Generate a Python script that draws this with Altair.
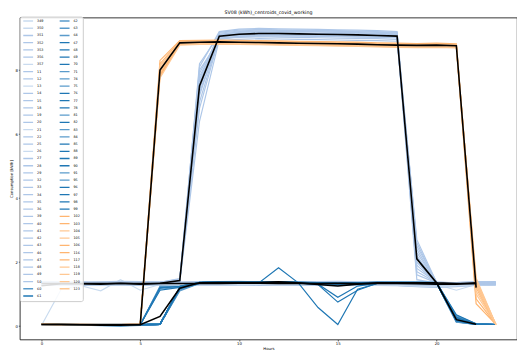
import altair as alt
import pandas as pd

HOURS = list(range(24))
CENTROID_HOURS = list(range(23))
TITLE = "SV08 (kWh)_centroids_covid_working"
X_TICKS = [0, 5, 10, 15, 20]
Y_TICKS = [0, 2, 4, 6, 8]

# ---- flat cluster (light blue) ----
FLAT_NAMES = ["349", "350", "351", "352", "353", "356", "357", "11", "12", "13", "14",
              "15", "18", "19", "20", "21", "22", "25", "26", "27", "28", "29"]
FLAT_VALUES = [
    [0.02, 1.15, 1.27, 1.29, 1.30, 1.31, 1.30, 1.32, 1.31, 1.30, 1.31, 1.32, 1.30, 1.31, 1.30, 1.29, 1.30, 1.31, 1.30, 1.29, 1.28, 1.30, 1.31, 1.33],
    [1.31, 1.29, 1.26, 1.10, 1.45, 1.12, 1.30, 1.33, 1.34, 1.33, 1.35, 1.34, 1.36, 1.35, 1.33, 1.38, 1.34, 1.33, 1.35, 1.32, 1.30, 1.12, 1.30, 1.33],
    [1.34, 1.33, 1.32, 1.33, 1.34, 1.33, 1.35, 1.34, 1.33, 1.34, 1.35, 1.33, 1.34, 1.36, 1.35, 1.34, 1.33, 1.34, 1.35, 1.33, 1.32, 1.33, 1.34, 1.35],
    [1.36, 1.35, 1.36, 1.34, 1.35, 1.36, 1.37, 1.36, 1.35, 1.34, 1.36, 1.37, 1.35, 1.36, 1.34, 1.35, 1.36, 1.35, 1.34, 1.36, 1.35, 1.36, 1.37, 1.36],
    [1.30, 1.31, 1.29, 1.30, 1.31, 1.29, 1.30, 1.32, 1.31, 1.30, 1.29, 1.30, 1.31, 1.32, 1.30, 1.29, 1.31, 1.30, 1.29, 1.27, 1.25, 1.26, 1.29, 1.30],
    [1.38, 1.37, 1.38, 1.36, 1.37, 1.38, 1.36, 1.37, 1.38, 1.37, 1.36, 1.38, 1.39, 1.37, 1.36, 1.37, 1.38, 1.36, 1.37, 1.38, 1.37, 1.36, 1.38, 1.37],
    [1.28, 1.29, 1.30, 1.28, 1.29, 1.27, 1.28, 1.30, 1.29, 1.28, 1.30, 1.29, 1.28, 1.27, 1.29, 1.30, 1.28, 1.29, 1.27, 1.24, 1.22, 1.25, 1.28, 1.29],
    [1.33, 1.34, 1.33, 1.32, 1.34, 1.33, 1.32, 1.33, 1.34, 1.35, 1.33, 1.32, 1.34, 1.33, 1.32, 1.34, 1.33, 1.32, 1.33, 1.34, 1.33, 1.32, 1.33, 1.34],
    [1.35, 1.33, 1.34, 1.35, 1.33, 1.34, 1.36, 1.35, 1.33, 1.34, 1.35, 1.36, 1.34, 1.33, 1.35, 1.36, 1.34, 1.35, 1.33, 1.34, 1.35, 1.34, 1.33, 1.35],
    [1.31, 1.32, 1.30, 1.31, 1.33, 1.32, 1.31, 1.30, 1.32, 1.31, 1.33, 1.32, 1.30, 1.31, 1.32, 1.33, 1.31, 1.30, 1.31, 1.30, 1.29, 1.30, 1.32, 1.31],
    [1.39, 1.38, 1.37, 1.38, 1.40, 1.39, 1.38, 1.37, 1.38, 1.39, 1.40, 1.38, 1.37, 1.38, 1.39, 1.40, 1.38, 1.39, 1.37, 1.36, 1.35, 1.36, 1.38, 1.39],
    [1.27, 1.28, 1.27, 1.29, 1.28, 1.27, 1.29, 1.28, 1.27, 1.28, 1.29, 1.27, 1.28, 1.29, 1.27, 1.26, 1.28, 1.27, 1.26, 1.23, 1.21, 1.23, 1.27, 1.28],
    [1.34, 1.35, 1.34, 1.33, 1.35, 1.34, 1.33, 1.35, 1.36, 1.34, 1.33, 1.35, 1.34, 1.36, 1.35, 1.33, 1.34, 1.35, 1.34, 1.33, 1.34, 1.35, 1.34, 1.33],
    [1.32, 1.31, 1.33, 1.32, 1.31, 1.33, 1.32, 1.31, 1.33, 1.32, 1.34, 1.33, 1.31, 1.32, 1.33, 1.32, 1.31, 1.33, 1.32, 1.31, 1.30, 1.31, 1.33, 1.32],
    [1.36, 1.37, 1.35, 1.36, 1.37, 1.36, 1.35, 1.37, 1.36, 1.35, 1.37, 1.36, 1.38, 1.37, 1.35, 1.36, 1.37, 1.36, 1.35, 1.36, 1.35, 1.36, 1.37, 1.36],
    [1.29, 1.30, 1.31, 1.29, 1.30, 1.31, 1.29, 1.30, 1.28, 1.29, 1.31, 1.30, 1.29, 1.30, 1.31, 1.29, 1.30, 1.28, 1.29, 1.26, 1.24, 1.27, 1.30, 1.31],
    [1.33, 1.32, 1.34, 1.33, 1.32, 1.31, 1.33, 1.34, 1.32, 1.33, 1.34, 1.35, 1.33, 1.32, 1.34, 1.33, 1.32, 1.34, 1.33, 1.32, 1.31, 1.32, 1.34, 1.33],
    [1.37, 1.36, 1.35, 1.37, 1.36, 1.35, 1.37, 1.36, 1.38, 1.37, 1.36, 1.35, 1.37, 1.38, 1.36, 1.37, 1.35, 1.36, 1.37, 1.35, 1.34, 1.35, 1.36, 1.37],
    [1.30, 1.29, 1.31, 1.30, 1.29, 1.30, 1.31, 1.29, 1.30, 1.31, 1.29, 1.30, 1.32, 1.31, 1.30, 1.31, 1.29, 1.30, 1.28, 1.25, 1.23, 1.26, 1.29, 1.30],
    [1.35, 1.34, 1.36, 1.35, 1.34, 1.35, 1.36, 1.34, 1.35, 1.36, 1.34, 1.35, 1.36, 1.34, 1.35, 1.34, 1.36, 1.35, 1.34, 1.35, 1.34, 1.33, 1.35, 1.36],
    [1.32, 1.33, 1.31, 1.32, 1.33, 1.32, 1.34, 1.33, 1.31, 1.32, 1.33, 1.34, 1.32, 1.33, 1.31, 1.32, 1.33, 1.32, 1.31, 1.29, 1.28, 1.30, 1.32, 1.33],
    [1.34, 1.36, 1.35, 1.34, 1.36, 1.35, 1.34, 1.36, 1.35, 1.34, 1.36, 1.35, 1.34, 1.35, 1.36, 1.35, 1.34, 1.36, 1.35, 1.33, 1.32, 1.34, 1.35, 1.36],
]

# ---- working-day cluster (light blue, ~9 kWh) ----
WORK_NAMES = ["32", "33", "34", "35", "36", "39", "40", "41", "42", "43", "46", "47", "48", "49", "50"]
WORK_VALUES = [
    [1.32, 1.33, 1.31, 1.32, 1.33, 1.34, 1.33, 1.38, 6.40, 8.95, 9.05, 9.08, 9.10, 9.12, 9.10, 9.08, 9.07, 9.06, 9.05, 1.45, 1.34, 1.32, 1.31, 1.32],
    [1.35, 1.34, 1.36, 1.35, 1.34, 1.35, 1.36, 1.42, 6.80, 9.02, 9.10, 9.12, 9.14, 9.13, 9.12, 9.11, 9.10, 9.08, 9.06, 1.60, 1.35, 1.33, 1.32, 1.33],
    [1.30, 1.31, 1.30, 1.29, 1.31, 1.30, 1.32, 1.40, 7.00, 9.05, 9.15, 9.18, 9.17, 9.16, 9.15, 9.14, 9.13, 9.12, 9.10, 1.70, 1.36, 1.34, 1.33, 1.34],
    [1.34, 1.33, 1.34, 1.35, 1.33, 1.34, 1.35, 1.45, 7.20, 9.10, 9.20, 9.22, 9.21, 9.20, 9.19, 9.18, 9.17, 9.15, 9.13, 1.80, 1.37, 1.33, 1.34, 1.35],
    [1.36, 1.35, 1.37, 1.36, 1.35, 1.36, 1.37, 1.48, 7.40, 9.12, 9.18, 9.20, 9.19, 9.21, 9.20, 9.18, 9.16, 9.14, 9.12, 1.90, 1.35, 1.32, 1.33, 1.34],
    [1.33, 1.32, 1.33, 1.34, 1.32, 1.33, 1.34, 1.43, 7.50, 9.08, 9.12, 9.14, 9.13, 9.12, 9.11, 9.10, 9.09, 9.08, 9.07, 2.00, 1.36, 1.33, 1.32, 1.33],
    [1.31, 1.32, 1.31, 1.30, 1.32, 1.31, 1.33, 1.41, 7.60, 9.15, 9.22, 9.25, 9.24, 9.23, 9.22, 9.21, 9.20, 9.18, 9.16, 2.10, 1.34, 1.31, 1.32, 1.31],
    [1.35, 1.36, 1.35, 1.34, 1.36, 1.35, 1.36, 1.46, 7.70, 9.18, 9.25, 9.27, 9.26, 9.25, 9.24, 9.23, 9.22, 9.20, 9.18, 2.15, 1.37, 1.34, 1.33, 1.34],
    [1.32, 1.31, 1.32, 1.33, 1.31, 1.32, 1.33, 1.39, 7.80, 9.00, 9.05, 9.06, 9.07, 9.06, 9.05, 9.04, 9.03, 9.02, 9.01, 2.20, 1.33, 1.32, 1.31, 1.32],
    [1.34, 1.35, 1.34, 1.33, 1.35, 1.34, 1.35, 1.44, 7.90, 9.05, 9.08, 9.10, 9.09, 9.08, 9.07, 9.06, 9.05, 9.04, 9.02, 2.30, 1.36, 1.33, 1.34, 1.33],
    [1.33, 1.34, 1.33, 1.32, 1.34, 1.33, 1.34, 1.42, 8.00, 8.92, 8.96, 8.98, 8.97, 8.96, 8.95, 8.94, 8.93, 8.92, 8.90, 2.40, 1.35, 1.32, 1.33, 1.34],
    [1.36, 1.35, 1.36, 1.37, 1.35, 1.36, 1.37, 1.47, 8.10, 9.20, 9.28, 9.30, 9.29, 9.28, 9.27, 9.26, 9.25, 9.23, 9.20, 2.50, 1.38, 1.34, 1.35, 1.36],
    [1.31, 1.30, 1.31, 1.32, 1.30, 1.31, 1.32, 1.38, 8.20, 9.10, 9.14, 9.16, 9.15, 9.14, 9.13, 9.12, 9.11, 9.10, 9.08, 2.60, 1.34, 1.31, 1.30, 1.31],
    [1.34, 1.33, 1.35, 1.34, 1.33, 1.34, 1.35, 1.44, 7.30, 8.98, 9.02, 9.04, 9.03, 9.02, 9.01, 9.00, 8.99, 8.98, 8.96, 2.70, 1.36, 1.33, 1.32, 1.33],
    [1.32, 1.33, 1.32, 1.31, 1.33, 1.32, 1.34, 1.40, 7.60, 9.06, 9.10, 9.12, 9.11, 9.10, 9.09, 9.08, 9.07, 9.06, 9.04, 2.00, 1.35, 1.32, 1.33, 1.32],
]

# ---- daytime cluster (blue) ----
DAY_NAMES = ["60", "61", "62", "63", "64", "67", "68", "69", "70", "71", "74", "75", "76", "77", "78",
             "81", "82", "83", "84", "85", "88", "89", "90", "91", "95", "96", "97", "98", "99"]
DAY_VALUES = [
    [0.05, 0.05, 0.04, 0.04, 0.03, 0.04, 0.05, 1.18, 1.35, 1.36, 1.35, 1.36, 1.37, 1.35, 1.33, 1.31, 1.33, 1.34, 1.35, 1.34, 1.35, 0.15, 0.05, 0.05],
    [0.06, 0.05, 0.05, 0.04, 0.04, 0.05, 0.06, 1.22, 1.36, 1.37, 1.36, 1.37, 1.36, 1.35, 1.34, 1.32, 1.34, 1.35, 1.36, 1.35, 1.36, 0.20, 0.06, 0.05],
    [0.05, 0.04, 0.03, 0.01, 0.00, 0.02, 0.05, 1.10, 1.33, 1.35, 1.34, 1.35, 1.36, 1.34, 1.32, 1.30, 1.31, 1.33, 1.34, 1.33, 1.34, 0.12, 0.05, 0.05],
    [0.05, 0.05, 0.04, 0.03, 0.03, 0.04, 1.22, 1.25, 1.36, 1.37, 1.36, 1.38, 1.37, 1.36, 1.35, 1.33, 1.35, 1.36, 1.37, 1.36, 1.35, 0.25, 0.06, 0.05],
    [0.06, 0.05, 0.05, 0.04, 0.04, 0.05, 0.05, 1.15, 1.34, 1.35, 1.36, 1.35, 1.36, 1.35, 1.33, 1.28, 1.30, 1.34, 1.35, 1.34, 1.36, 0.18, 0.05, 0.05],
    [0.05, 0.05, 0.04, 0.02, 0.01, 0.03, 0.05, 1.20, 1.37, 1.38, 1.37, 1.38, 1.39, 1.37, 1.36, 1.34, 1.36, 1.37, 1.36, 1.37, 1.36, 0.22, 0.06, 0.05],
    [0.05, 0.05, 0.05, 0.04, 0.04, 0.04, 1.18, 1.24, 1.35, 1.36, 1.37, 1.36, 1.37, 1.36, 1.34, 1.32, 1.35, 1.36, 1.35, 1.36, 1.35, 0.30, 0.07, 0.05],
    [0.06, 0.06, 0.05, 0.05, 0.04, 0.05, 0.06, 1.17, 1.35, 1.36, 1.35, 1.37, 1.36, 1.35, 1.34, 1.30, 1.33, 1.35, 1.36, 1.35, 1.36, 0.19, 0.05, 0.05],
    [0.05, 0.05, 0.04, 0.04, 0.03, 0.04, 0.05, 1.20, 1.35, 1.36, 1.35, 1.35, 1.82, 1.35, 0.58, 0.05, 1.15, 1.33, 1.35, 1.34, 1.35, 0.17, 0.05, 0.05],
    [0.05, 0.05, 0.04, 0.03, 0.03, 0.04, 0.05, 1.16, 1.34, 1.35, 1.36, 1.35, 1.36, 1.34, 1.33, 1.31, 1.32, 1.34, 1.35, 1.34, 1.35, 0.14, 0.05, 0.05],
    [0.06, 0.05, 0.05, 0.04, 0.04, 0.05, 0.06, 1.19, 1.36, 1.37, 1.36, 1.36, 1.37, 1.36, 1.35, 1.33, 1.34, 1.36, 1.37, 1.36, 1.35, 0.21, 0.06, 0.05],
    [0.05, 0.05, 0.04, 0.04, 0.03, 0.04, 1.15, 1.22, 1.35, 1.36, 1.37, 1.36, 1.38, 1.37, 1.35, 1.32, 1.34, 1.35, 1.36, 1.35, 1.36, 0.33, 0.07, 0.05],
    [0.05, 0.05, 0.04, 0.03, 0.02, 0.04, 0.05, 1.21, 1.37, 1.38, 1.37, 1.38, 1.37, 1.36, 1.35, 1.33, 1.35, 1.36, 1.37, 1.36, 1.37, 0.18, 0.05, 0.05],
    [0.06, 0.05, 0.05, 0.04, 0.04, 0.05, 0.06, 1.14, 1.34, 1.35, 1.34, 1.36, 1.35, 1.34, 1.32, 1.29, 1.31, 1.33, 1.34, 1.33, 1.34, 0.16, 0.05, 0.05],
    [0.05, 0.05, 0.04, 0.04, 0.03, 0.04, 0.05, 1.19, 1.36, 1.37, 1.36, 1.37, 1.38, 1.36, 1.35, 1.33, 1.35, 1.36, 1.35, 1.36, 1.35, 0.24, 0.06, 0.05],
    [0.05, 0.05, 0.04, 0.03, 0.03, 0.04, 0.05, 1.17, 1.35, 1.36, 1.35, 1.36, 1.37, 1.35, 1.34, 1.31, 1.33, 1.35, 1.36, 1.35, 1.34, 0.13, 0.05, 0.05],
    [0.06, 0.05, 0.05, 0.04, 0.04, 0.05, 0.06, 1.18, 1.35, 1.36, 1.37, 1.36, 1.37, 1.35, 1.30, 0.75, 1.12, 1.34, 1.35, 1.34, 1.35, 0.20, 0.06, 0.05],
    [0.05, 0.05, 0.04, 0.04, 0.03, 0.04, 1.25, 1.23, 1.36, 1.37, 1.36, 1.37, 1.38, 1.37, 1.35, 1.33, 1.34, 1.36, 1.37, 1.36, 1.36, 0.28, 0.06, 0.05],
    [0.05, 0.05, 0.04, 0.03, 0.03, 0.04, 0.05, 1.13, 1.34, 1.35, 1.34, 1.35, 1.36, 1.34, 1.33, 1.30, 1.32, 1.34, 1.35, 1.34, 1.35, 0.15, 0.05, 0.05],
    [0.06, 0.05, 0.05, 0.04, 0.04, 0.05, 0.06, 1.20, 1.36, 1.37, 1.38, 1.37, 1.38, 1.36, 1.35, 1.33, 1.35, 1.37, 1.36, 1.37, 1.36, 0.22, 0.06, 0.05],
    [0.05, 0.05, 0.04, 0.04, 0.03, 0.04, 0.05, 1.18, 1.35, 1.36, 1.35, 1.36, 1.37, 1.35, 1.34, 1.32, 1.34, 1.35, 1.36, 1.35, 1.35, 0.19, 0.05, 0.05],
    [0.05, 0.05, 0.04, 0.03, 0.03, 0.04, 1.12, 1.21, 1.35, 1.36, 1.37, 1.36, 1.37, 1.36, 1.34, 1.31, 1.33, 1.35, 1.36, 1.35, 1.36, 0.35, 0.07, 0.05],
    [0.06, 0.05, 0.05, 0.04, 0.04, 0.05, 0.06, 1.16, 1.34, 1.35, 1.36, 1.35, 1.36, 1.34, 1.31, 0.90, 1.25, 1.34, 1.35, 1.34, 1.35, 0.17, 0.05, 0.05],
    [0.05, 0.05, 0.04, 0.04, 0.03, 0.04, 0.05, 1.19, 1.36, 1.37, 1.36, 1.37, 1.36, 1.35, 1.34, 1.32, 1.34, 1.36, 1.35, 1.36, 1.35, 0.21, 0.06, 0.05],
    [0.05, 0.05, 0.04, 0.03, 0.02, 0.03, 0.05, 1.15, 1.34, 1.35, 1.34, 1.35, 1.36, 1.35, 1.33, 1.30, 1.32, 1.34, 1.35, 1.34, 1.35, 0.14, 0.05, 0.05],
    [0.06, 0.05, 0.05, 0.04, 0.04, 0.05, 1.20, 1.24, 1.36, 1.37, 1.36, 1.38, 1.37, 1.36, 1.35, 1.33, 1.35, 1.36, 1.37, 1.36, 1.36, 0.27, 0.06, 0.05],
    [0.05, 0.05, 0.04, 0.04, 0.03, 0.04, 0.05, 1.18, 1.35, 1.36, 1.35, 1.36, 1.37, 1.35, 1.34, 1.32, 1.34, 1.35, 1.36, 1.35, 1.35, 0.18, 0.05, 0.05],
    [0.05, 0.05, 0.04, 0.03, 0.03, 0.04, 0.05, 1.21, 1.37, 1.38, 1.37, 1.37, 1.38, 1.37, 1.36, 1.34, 1.35, 1.37, 1.36, 1.37, 1.36, 0.23, 0.06, 0.05],
    [0.06, 0.05, 0.05, 0.04, 0.04, 0.05, 0.06, 1.17, 1.35, 1.36, 1.35, 1.36, 1.36, 1.35, 1.33, 1.31, 1.33, 1.35, 1.34, 1.35, 1.34, 0.16, 0.05, 0.05],
]

# ---- early working cluster (orange) ----
EARLY_NAMES = ["102", "103", "104", "105", "106", "116", "117", "118", "119", "120", "123"]
EARLY_VALUES = [
    [0.05, 0.05, 0.05, 0.04, 0.05, 0.05, 7.80, 8.82, 8.85, 8.86, 8.85, 8.84, 8.83, 8.82, 8.81, 8.80, 8.79, 8.77, 8.76, 8.75, 8.76, 8.74, 0.70, 0.05],
    [0.06, 0.05, 0.05, 0.05, 0.05, 0.06, 7.90, 8.86, 8.88, 8.89, 8.88, 8.87, 8.86, 8.85, 8.84, 8.83, 8.82, 8.80, 8.79, 8.78, 8.79, 8.77, 0.85, 0.05],
    [0.05, 0.04, 0.05, 0.05, 0.04, 0.05, 8.00, 8.84, 8.86, 8.87, 8.86, 8.85, 8.84, 8.84, 8.83, 8.82, 8.81, 8.79, 8.78, 8.77, 8.78, 8.76, 1.00, 0.05],
    [0.05, 0.05, 0.06, 0.05, 0.05, 0.05, 8.10, 8.88, 8.90, 8.91, 8.90, 8.89, 8.88, 8.87, 8.86, 8.85, 8.84, 8.82, 8.81, 8.80, 8.81, 8.79, 1.10, 0.05],
    [0.06, 0.06, 0.05, 0.05, 0.05, 0.06, 8.20, 8.90, 8.92, 8.92, 8.91, 8.90, 8.89, 8.88, 8.87, 8.86, 8.85, 8.83, 8.82, 8.81, 8.82, 8.80, 1.20, 0.05],
    [0.05, 0.05, 0.05, 0.04, 0.05, 0.05, 8.30, 8.92, 8.93, 8.94, 8.93, 8.92, 8.91, 8.90, 8.89, 8.88, 8.87, 8.85, 8.84, 8.83, 8.84, 8.82, 1.30, 0.05],
    [0.05, 0.05, 0.04, 0.05, 0.05, 0.05, 7.85, 8.80, 8.82, 8.83, 8.82, 8.81, 8.80, 8.79, 8.78, 8.77, 8.76, 8.74, 8.73, 8.72, 8.73, 8.71, 1.40, 0.05],
    [0.06, 0.05, 0.05, 0.05, 0.04, 0.06, 8.05, 8.83, 8.84, 8.85, 8.84, 8.83, 8.82, 8.81, 8.80, 8.79, 8.78, 8.76, 8.75, 8.74, 8.75, 8.73, 1.50, 0.05],
    [0.05, 0.05, 0.05, 0.05, 0.05, 0.05, 7.95, 8.85, 8.87, 8.87, 8.86, 8.85, 8.84, 8.83, 8.82, 8.81, 8.80, 8.78, 8.77, 8.76, 8.77, 8.75, 1.25, 0.05],
    [0.05, 0.04, 0.05, 0.05, 0.05, 0.05, 8.15, 8.87, 8.89, 8.90, 8.89, 8.88, 8.87, 8.86, 8.85, 8.84, 8.83, 8.81, 8.80, 8.79, 8.80, 8.78, 1.35, 0.05],
    [0.06, 0.05, 0.05, 0.04, 0.05, 0.06, 7.75, 8.78, 8.80, 8.81, 8.80, 8.79, 8.78, 8.77, 8.76, 8.75, 8.74, 8.72, 8.71, 8.70, 8.71, 8.69, 1.45, 0.05],
]

# ---- centroids (black, hours 0-22) ----
CENTROID_NAMES = ["c_flat", "c_work", "c_day", "c_early"]
CENTROID_VALUES = [
    [1.26, 1.32, 1.32, 1.31, 1.34, 1.31, 1.33, 1.33, 1.33, 1.33, 1.34, 1.34, 1.33, 1.34, 1.33, 1.34, 1.33, 1.33, 1.33, 1.32, 1.31, 1.31, 1.35],
    [1.33, 1.33, 1.33, 1.33, 1.33, 1.33, 1.34, 1.42, 7.50, 9.06, 9.12, 9.14, 9.14, 9.13, 9.12, 9.11, 9.10, 9.08, 9.06, 2.10, 1.35, 1.33, 1.32],
    [0.05, 0.05, 0.04, 0.03, 0.03, 0.04, 0.30, 1.18, 1.35, 1.36, 1.36, 1.36, 1.38, 1.35, 1.30, 1.25, 1.31, 1.35, 1.35, 1.35, 1.35, 0.20, 0.06],
    [0.05, 0.05, 0.05, 0.05, 0.05, 0.05, 8.00, 8.85, 8.87, 8.88, 8.87, 8.86, 8.85, 8.84, 8.83, 8.82, 8.81, 8.79, 8.78, 8.77, 8.78, 8.76, 1.20],
]

# ---- colours per series ----
LIGHT = "#aec7e8"
PALE = "#c9dbef"
MID = "#5a9bcb"
DARK = "#1f77b4"
ORANGE = "#ffb570"
PALE_ORANGE = "#ffc893"
PALE_FLAT = {"349", "350", "357", "13", "21", "26"}
MID_DAY = {"60", "62", "63", "64", "71", "74", "75", "81", "83", "84", "91", "95"}
PALE_EARLY = {"104", "105", "118", "119", "120", "123"}


def colour_of(name):
    if name in FLAT_NAMES:
        return PALE if name in PALE_FLAT else LIGHT
    if name in WORK_NAMES:
        return LIGHT
    if name in DAY_NAMES:
        return MID if name in MID_DAY else DARK
    return PALE_ORANGE if name in PALE_EARLY else ORANGE


rows = []
for names, values in [(FLAT_NAMES, FLAT_VALUES), (WORK_NAMES, WORK_VALUES),
                      (DAY_NAMES, DAY_VALUES), (EARLY_NAMES, EARLY_VALUES)]:
    for n, vals in zip(names, values):
        for h, v in zip(HOURS, vals):
            rows.append({"series": n, "hour": h, "value": v})
df = pd.DataFrame(rows)

crows = []
for n, vals in zip(CENTROID_NAMES, CENTROID_VALUES):
    for h, v in zip(CENTROID_HOURS, vals):
        crows.append({"centroid": n, "hour": h, "value": v})
cdf = pd.DataFrame(crows)

# legend order (Vega fills the two columns top-to-bottom)
legend_domain = FLAT_NAMES + WORK_NAMES + DAY_NAMES + EARLY_NAMES
legend_range = [colour_of(n) for n in legend_domain]

FONT = "DejaVu Sans"
x_scale = alt.Scale(domain=[-1.096, 24.07], nice=False, zero=False)
y_scale = alt.Scale(domain=[-0.42, 9.64], nice=False, zero=False)

x_enc = alt.X("hour:Q", scale=x_scale,
              axis=alt.Axis(values=X_TICKS, title="Hours", format="d"))
y_enc = alt.Y("value:Q", scale=y_scale,
              axis=alt.Axis(values=Y_TICKS, title="Consumption [kWh]", format="d"))

lines = alt.Chart(df).mark_line(strokeWidth=1.2, clip=True).encode(
    x=x_enc,
    y=y_enc,
    color=alt.Color(
        "series:N",
        scale=alt.Scale(domain=legend_domain, range=legend_range),
        legend=alt.Legend(
            title=None, orient="none", legendX=0, legendY=-1, columns=2,
            symbolLimit=200,
            symbolType="stroke", symbolSize=100, symbolStrokeWidth=1.3,
            clipHeight=4, rowPadding=3.35, columnPadding=15,
            labelFontSize=3.4, labelFont=FONT, labelColor="#000000", labelOffset=3,
            padding=2.5, fillColor="rgba(255,255,255,0.85)", strokeColor="#cccccc",
            cornerRadius=2,
        ),
    ),
)

cents = alt.Chart(cdf).mark_line(color="black", strokeWidth=1.6, clip=True).encode(
    x=x_enc,
    y=y_enc,
    detail="centroid:N",
)

chart = alt.layer(lines, cents).properties(
    width=505,
    height=327,
    title=alt.TitleParams(TITLE, fontSize=4.8, font=FONT, fontWeight="normal",
                          color="black", offset=1, anchor="middle", frame="group"),
    autosize=alt.AutoSizeParams(type="none"),
    padding={"left": 12, "top": 7, "right": 0, "bottom": 12},
).configure_view(
    stroke="black", strokeWidth=0.8
).configure_axis(
    domain=False, grid=False, ticks=True, tickColor="black", tickSize=1.5, tickWidth=0.6,
    labelFontSize=3.9, labelFont=FONT, labelColor="black", labelPadding=1,
    titleFontSize=3.9, titleFont=FONT, titleColor="black", titleFontWeight="normal",
    titlePadding=1,
)

chart.save("out.html", embed_options={"renderer": "svg", "actions": False})
